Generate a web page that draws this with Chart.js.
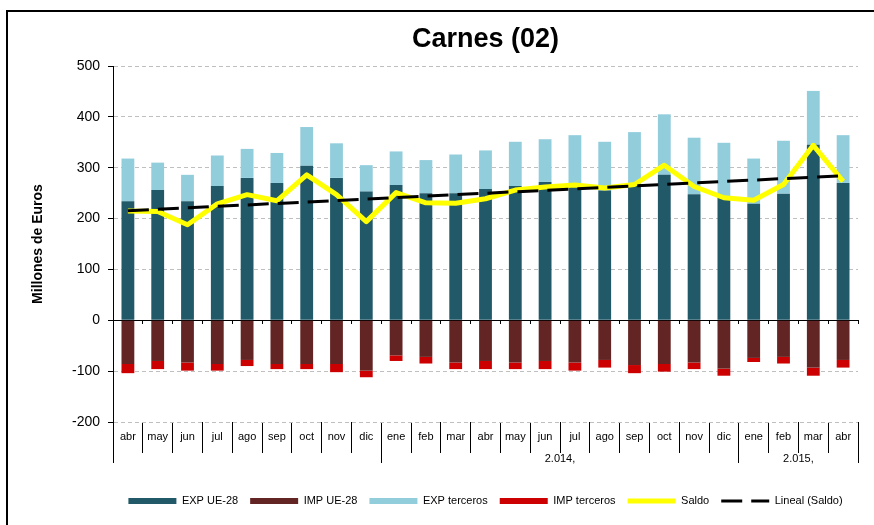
<!DOCTYPE html>
<html>
<head>
<meta charset="utf-8">
<script src="https://cdn.jsdelivr.net/npm/chart.js@4.4.1/dist/chart.umd.min.js"></script>
<style>
  html, body { margin: 0; padding: 0; background: #fff; overflow: hidden; }
  #wrap { position: relative; width: 874px; height: 525px; }
  #frame { position: absolute; left: 6px; top: 10px; width: 900px; height: 600px; border: 2px solid #000; box-sizing: border-box; }
  canvas { position: absolute; left: 0; top: 0; }
</style>
</head>
<body>
<div id="wrap">
  <div id="frame"></div>
  <canvas id="chart" width="874" height="525"></canvas>
</div>
<script>
const months = ["abr", "may", "jun", "jul", "ago", "sep", "oct", "nov", "dic",
  "ene", "feb", "mar", "abr", "may", "jun", "jul", "ago", "sep", "oct", "nov", "dic",
  "ene", "feb", "mar", "abr"];
const yearLabels = ["", "2.014,", "2.015,"];
const monthsPerYear = [9, 12, 4];

const expUE = [234, 256, 234, 264, 280, 270, 304, 280, 253, 266, 250, 250, 258,
  264, 272, 268, 255, 268, 286, 248, 242, 229, 249, 345, 270];
const expTerceros = [84, 54, 52, 60, 57, 59, 76, 68, 52, 66, 65, 76, 76,
  87, 84, 96, 96, 102, 119, 111, 107, 89, 104, 106, 94];
const impUE = [-86, -80, -83, -86, -78, -86, -86, -86, -99, -69, -72, -83, -80,
  -83, -80, -83, -78, -88, -86, -83, -95, -74, -72, -93, -78];
const impTerceros = [-18, -16, -16, -13, -12, -10, -10, -16, -13, -11, -13, -13, -16,
  -13, -16, -16, -15, -16, -15, -13, -14, -8, -13, -16, -15];
const saldo = [215, 214, 188, 229, 247, 235, 286, 247, 194, 251, 231, 230, 239,
  256, 262, 266, 260, 267, 305, 263, 241, 236, 267, 344, 273];

// linear trend of Saldo (least squares), like Excel's "Lineal"
function linearTrend(values) {
  const n = values.length;
  const mx = (n - 1) / 2;
  const my = values.reduce((a, b) => a + b, 0) / n;
  let sxy = 0, sxx = 0;
  values.forEach((v, i) => {
    sxy += (i - mx) * (v - my);
    sxx += (i - mx) * (i - mx);
  });
  const slope = sxy / sxx;
  return values.map((v, i) => my + slope * (i - mx));
}
const lineal = linearTrend(saldo);

// year group boundaries and centers for the second label row
const yearBounds = [-0.5];
const yearCenters = [];
monthsPerYear.forEach((n) => {
  const start = yearBounds[yearBounds.length - 1];
  yearCenters.push(start + n / 2);
  yearBounds.push(start + n);
});

Chart.defaults.font.family = "'Liberation Sans', Arial, sans-serif";
Chart.defaults.color = "#000";

const ctx = document.getElementById("chart").getContext("2d");
new Chart(ctx, {
  data: {
    labels: months,
    datasets: [
      { type: "bar", label: "EXP UE-28", data: expUE, backgroundColor: "#215968", order: 2 },
      { type: "bar", label: "IMP UE-28", data: impUE, backgroundColor: "#632523", order: 2 },
      { type: "bar", label: "EXP terceros", data: expTerceros, backgroundColor: "#92CDDC", order: 2 },
      { type: "bar", label: "IMP terceros", data: impTerceros, backgroundColor: "#CC0000", order: 2 },
      {
        type: "line", label: "Saldo", data: saldo, stack: "saldo",
        borderColor: "#FFFF00", backgroundColor: "#FFFF00", borderWidth: 5,
        pointRadius: 0, tension: 0, borderJoinStyle: "round", order: 1,
      },
      {
        type: "line", label: "Lineal (Saldo)", data: lineal, stack: "lineal",
        borderColor: "#000", backgroundColor: "#000", borderWidth: 3, borderDash: [21, 9],
        pointRadius: 0, tension: 0, order: 0,
      },
    ],
  },
  options: {
    responsive: false,
    animation: false,
    datasets: {
      bar: { barPercentage: 0.43, categoryPercentage: 1 },
    },
    layout: { padding: { left: 20, right: 16, top: 12, bottom: 8.5 } },
    plugins: {
      title: {
        display: true,
        text: "Carnes (02)",
        fullSize: false,
        font: { size: 27, weight: "bold" },
        padding: { top: 11.8, bottom: 9.8 },
      },
      legend: {
        position: "bottom",
        fullSize: false,
        labels: {
          usePointStyle: true,
          pointStyleWidth: 48,
          boxHeight: 6,
          padding: 12,
          font: { size: 11 },
          sort: (a, b) => a.datasetIndex - b.datasetIndex,
          generateLabels: (chart) => {
            const items = Chart.defaults.plugins.legend.labels.generateLabels(chart);
            items.forEach((it) => {
              const ds = chart.data.datasets[it.datasetIndex];
              if (ds.type === "line") {
                it.pointStyle = "line";
                it.strokeStyle = ds.borderColor;
                it.lineWidth = ds.borderWidth;
                it.lineDash = ds.borderDash || [];
              } else {
                it.pointStyle = "rect";
                it.lineWidth = 0;
              }
            });
            return items;
          },
        },
      },
      tooltip: { enabled: false },
    },
    scales: {
      x: {
        stacked: true,
        offset: true,
        weight: 1,
        grid: { offset: true, drawOnChartArea: false, tickLength: 31, color: "#000" },
        border: { display: false },
        ticks: { font: { size: 11 }, padding: -23, maxRotation: 0, autoSkip: false },
        afterFit: (s) => { s.height = 31; },
      },
      x2: {
        type: "linear",
        axis: "x",
        position: "bottom",
        weight: 2,
        bounds: "data",
        min: -0.5,
        max: months.length - 0.5,
        afterBuildTicks: (s) => {
          s.ticks = yearBounds.concat(yearCenters).sort((a, b) => a - b).map((v) => ({ value: v }));
        },
        grid: {
          drawOnChartArea: false,
          tickLength: 10,
          color: (c) => (c.tick && yearBounds.includes(c.tick.value) ? "#000" : "rgba(0,0,0,0)"),
        },
        border: { display: false },
        ticks: {
          autoSkip: false,
          maxRotation: 0,
          font: { size: 11 },
          padding: -10.6,
          callback: (v) => {
            const i = yearCenters.indexOf(v);
            return i >= 0 ? yearLabels[i] : "";
          },
        },
        afterFit: (s) => { s.height = 30.5; },
      },
      xZero: {
        type: "category",
        axis: "x",
        position: { y: 0 },
        offset: true,
        grid: { offset: true, drawOnChartArea: false, tickLength: 4, color: "#000" },
        border: { display: false },
        ticks: { display: false },
      },
      y: {
        stacked: true,
        min: -200,
        max: 500,
        ticks: { stepSize: 100, font: { size: 14 }, padding: 8 },
        grid: {
          color: (c) => (c.tick && c.tick.value === 0 ? "#000" : "#BFBFBF"),
          tickColor: "#000",
          tickLength: 5,
        },
        border: {
          display: true,
          color: "#000",
          width: 1,
          dash: (c) => (c.tick && c.tick.value !== 0 ? [4, 3] : []),
        },
        title: {
          display: true,
          text: "Millones de Euros",
          font: { size: 14, weight: "bold" },
          padding: { top: 9.6, bottom: 0 },
        },
        afterFit: (s) => { s.width = 93; },
      },
    },
  },
});
</script>
</body>
</html>
